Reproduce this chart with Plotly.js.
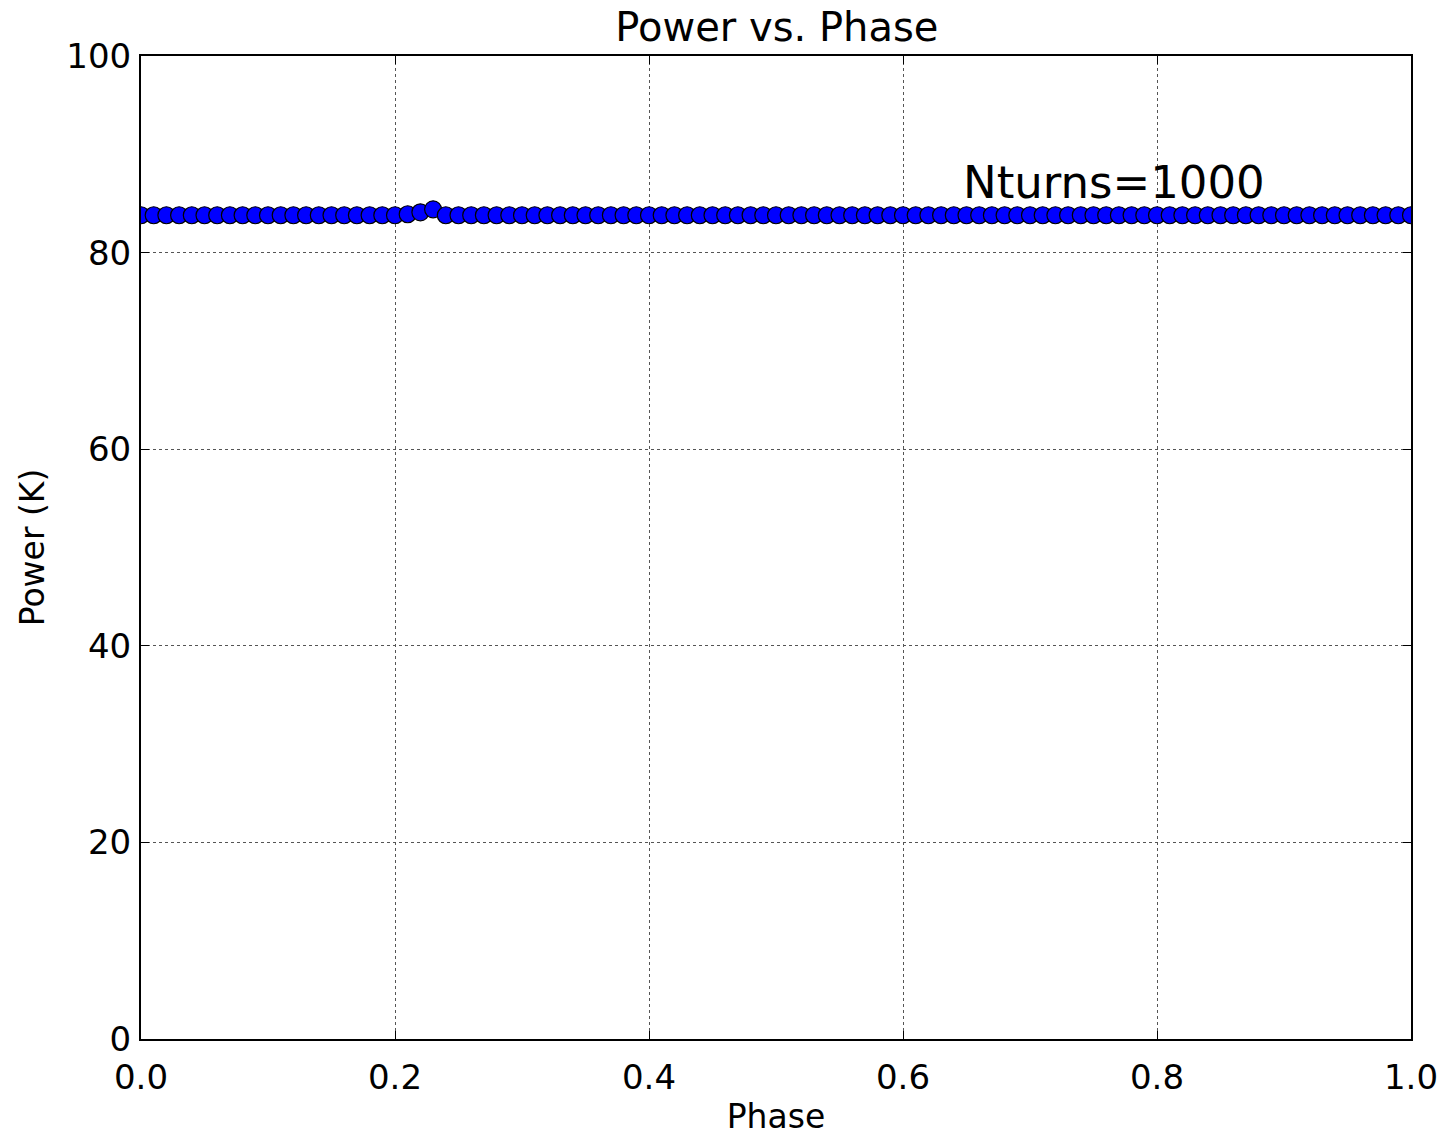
<!DOCTYPE html>
<html>
<head>
<meta charset="utf-8">
<script src="https://cdn.plot.ly/plotly-3.0.1.min.js"></script>
<style>
  html, body { margin: 0; padding: 0; background: #fff; }
  #chart { width: 1444px; height: 1136px; }
</style>
</head>
<body>
<div id="chart"></div>
<script>
// Phase samples (0.00 .. 1.00, step 0.01)
const phase = [
  0.00, 0.01, 0.02, 0.03, 0.04, 0.05, 0.06, 0.07, 0.08, 0.09,
  0.10, 0.11, 0.12, 0.13, 0.14, 0.15, 0.16, 0.17, 0.18, 0.19,
  0.20, 0.21, 0.22, 0.23, 0.24, 0.25, 0.26, 0.27, 0.28, 0.29,
  0.30, 0.31, 0.32, 0.33, 0.34, 0.35, 0.36, 0.37, 0.38, 0.39,
  0.40, 0.41, 0.42, 0.43, 0.44, 0.45, 0.46, 0.47, 0.48, 0.49,
  0.50, 0.51, 0.52, 0.53, 0.54, 0.55, 0.56, 0.57, 0.58, 0.59,
  0.60, 0.61, 0.62, 0.63, 0.64, 0.65, 0.66, 0.67, 0.68, 0.69,
  0.70, 0.71, 0.72, 0.73, 0.74, 0.75, 0.76, 0.77, 0.78, 0.79,
  0.80, 0.81, 0.82, 0.83, 0.84, 0.85, 0.86, 0.87, 0.88, 0.89,
  0.90, 0.91, 0.92, 0.93, 0.94, 0.95, 0.96, 0.97, 0.98, 0.99,
  1.00
];

// Power (K) at each phase
const power = [
  83.8, 83.8, 83.8, 83.8, 83.8, 83.8, 83.8, 83.8, 83.8, 83.8,
  83.8, 83.8, 83.8, 83.8, 83.8, 83.8, 83.8, 83.8, 83.8, 83.8,
  83.8, 83.9, 84.1, 84.4, 83.8, 83.8, 83.8, 83.8, 83.8, 83.8,
  83.8, 83.8, 83.8, 83.8, 83.8, 83.8, 83.8, 83.8, 83.8, 83.8,
  83.8, 83.8, 83.8, 83.8, 83.8, 83.8, 83.8, 83.8, 83.8, 83.8,
  83.8, 83.8, 83.8, 83.8, 83.8, 83.8, 83.8, 83.8, 83.8, 83.8,
  83.8, 83.8, 83.8, 83.8, 83.8, 83.8, 83.8, 83.8, 83.8, 83.8,
  83.8, 83.8, 83.8, 83.8, 83.8, 83.8, 83.8, 83.8, 83.8, 83.8,
  83.8, 83.8, 83.8, 83.8, 83.8, 83.8, 83.8, 83.8, 83.8, 83.8,
  83.8, 83.8, 83.8, 83.8, 83.8, 83.8, 83.8, 83.8, 83.8, 83.8,
  83.8
];

const xTicks = [0.0, 0.2, 0.4, 0.6, 0.8, 1.0];
const xTickText = ["0.0", "0.2", "0.4", "0.6", "0.8", "1.0"];
const yTicks = [0, 20, 40, 60, 80, 100];
const yTickText = ["0", "20", "40", "60", "80", "100"];

const runLabel = "Nturns=1000";

const FONT = "DejaVu Sans, Liberation Sans, sans-serif";

const trace = {
  x: phase,
  y: power,
  type: "scatter",
  mode: "lines+markers",
  line: { color: "#0000ff", width: 3 },
  marker: { symbol: "circle", size: 17, color: "#0000ff",
            line: { color: "#000000", width: 1.2 } },
  cliponaxis: true,
  showlegend: false
};

const axisCommon = {
  showline: true,
  linecolor: "#000",
  linewidth: 2,
  mirror: "ticks",
  ticks: "inside",
  ticklen: 8,
  tickwidth: 1,
  tickcolor: "#000",
  showgrid: true,
  gridcolor: "#555",
  griddash: "dot",
  gridwidth: 1,
  zeroline: false,
  tickfont: { family: FONT, size: 34, color: "#000" }
};

const layout = {
  width: 1444,
  height: 1136,
  paper_bgcolor: "#fff",
  plot_bgcolor: "#fff",
  margin: { l: 141, r: 33, t: 56, b: 97 },
  title: {
    text: "Power vs. Phase",
    font: { family: FONT, size: 40, color: "#000" },
    x: 0.538, xanchor: "center",
    y: 0.976, yanchor: "middle"
  },
  xaxis: Object.assign({}, axisCommon, {
    range: [0, 1],
    tickvals: xTicks,
    ticktext: xTickText,
    ticklabelstandoff: 7,
    title: { text: "Phase", font: { family: FONT, size: 33, color: "#000" }, standoff: 13 }
  }),
  yaxis: Object.assign({}, axisCommon, {
    range: [0, 100],
    tickvals: yTicks,
    ticktext: yTickText,
    ticklabelstandoff: 1,
    title: { text: "Power (K)", font: { family: FONT, size: 33, color: "#000" }, standoff: 12 }
  }),
  annotations: [{
    x: 0.646, y: 87.1, xref: "x", yref: "y",
    text: runLabel,
    showarrow: false,
    xanchor: "left", yanchor: "middle",
    font: { family: FONT, size: 45, color: "#000" }
  }]
};

Plotly.newPlot("chart", [trace], layout, { staticPlot: true, displayModeBar: false });
</script>
</body>
</html>
